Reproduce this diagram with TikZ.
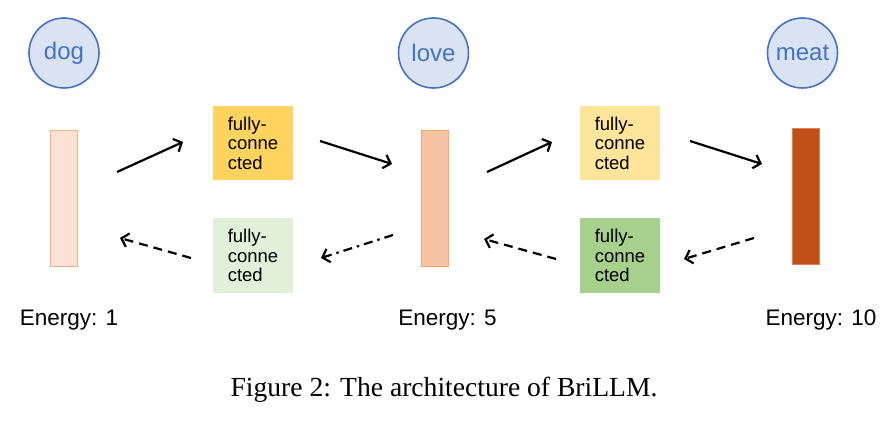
\documentclass[tikz,border=0pt]{standalone}
\usepackage{fontspec}
\setmainfont{Liberation Serif}
\newfontfamily\lblfont{Liberation Sans}
\usetikzlibrary{arrows.meta}
\definecolor{wordfill}{HTML}{DAE3F3}
\definecolor{wordline}{HTML}{4472C4}
\definecolor{barA}{HTML}{FBE2D4}
\definecolor{barAline}{HTML}{F4B183}
\definecolor{barB}{HTML}{F6C4A2}
\definecolor{barBline}{HTML}{F2A36E}
\definecolor{barC}{HTML}{C0501A}
\definecolor{barCline}{HTML}{E08050}
\definecolor{fcA}{HTML}{FFD45E}
\definecolor{fcB}{HTML}{E2EFD9}
\definecolor{fcC}{HTML}{FFE599}
\definecolor{fcD}{HTML}{A8D08D}
\tikzset{
  word/.style={circle, draw=wordline, fill=wordfill, line width=1.6pt, minimum size=70pt, inner sep=0pt,
    text=wordline, font=\lblfont\fontsize{24}{26}\selectfont},
  barbox/.style={rectangle, line width=0.8pt, minimum width=27pt, minimum height=136pt, inner sep=0pt},
  fcbox/.style={rectangle, minimum width=80pt, minimum height=74pt, inner sep=0pt, align=left,
    font=\lblfont\fontsize{18.5}{19.5}\selectfont},
  energy/.style={font=\lblfont\fontsize{22.5}{26}\selectfont, inner sep=0pt},
  conn/.style={line width=2.2pt, -{Straight Barb[length=6.5pt,width=14pt,line width=2.2pt]}},
  back/.style={conn, dash pattern=on 9pt off 6pt},
  backdot/.style={conn, dash pattern=on 9pt off 5pt on 2.5pt off 5pt},
}
\begin{document}
\begin{tikzpicture}[x=1pt,y=-1pt]
\useasboundingbox (0,0) rectangle (892,422);
% words
\node[word] (dog)  at (64,53)  {dog};
\node[word] (love) at (433.5,53) {love};
\node[word] (meat) at (802.5,53) {meat};
% bars
\node[barbox, fill=barA, draw=barAline] (b1) at (64,198) {};
\node[barbox, fill=barB, draw=barBline] (b2) at (434.5,198) {};
\node[barbox, fill=barC, draw=barCline] (b3) at (805.5,196) {};
% fully-connected boxes
\node[fcbox, fill=fcA] (fc1) at (253,143) {fully-\\conne\\cted};
\node[fcbox, fill=fcB, minimum height=75pt] (fc2) at (253,255.5) {fully-\\conne\\cted};
\node[fcbox, fill=fcC] (fc3) at (620,143) {fully-\\conne\\cted};
\node[fcbox, fill=fcD, minimum height=75pt] (fc4) at (620,255.5) {fully-\\conne\\cted};
% energies
\node[energy] (e1) at (69,320) {Energy: 1};
\node[energy] (e2) at (447.5,320) {Energy: 5};
\node[energy] (e3) at (821,320) {Energy: 10};
% caption
\node[font=\fontsize{27.6}{30}\selectfont, inner sep=0pt] (cap) at (444,390) {Figure 2: The architecture of BriLLM.};
% arrow end points
\coordinate (a1s) at (117,172); \coordinate (a1e) at (183,142);
\coordinate (a2s) at (320,141); \coordinate (a2e) at (392,164);
\coordinate (a3s) at (487,172); \coordinate (a3e) at (552,142);
\coordinate (a4s) at (690,141); \coordinate (a4e) at (762,164);
\coordinate (r1s) at (191,258); \coordinate (r1e) at (120,238);
\coordinate (r2s) at (393,235); \coordinate (r2e) at (321,258);
\coordinate (r3s) at (556,259); \coordinate (r3e) at (484,239);
\coordinate (r4s) at (754,238); \coordinate (r4e) at (684,259);
\draw[conn] (a1s) -- (a1e);
\draw[conn] (a2s) -- (a2e);
\draw[conn] (a3s) -- (a3e);
\draw[conn] (a4s) -- (a4e);
\draw[back] (r1s) -- (r1e);
\draw[backdot] (r2s) -- (r2e);
\draw[back] (r3s) -- (r3e);
\draw[back] (r4s) -- (r4e);
\end{tikzpicture}
\end{document}
